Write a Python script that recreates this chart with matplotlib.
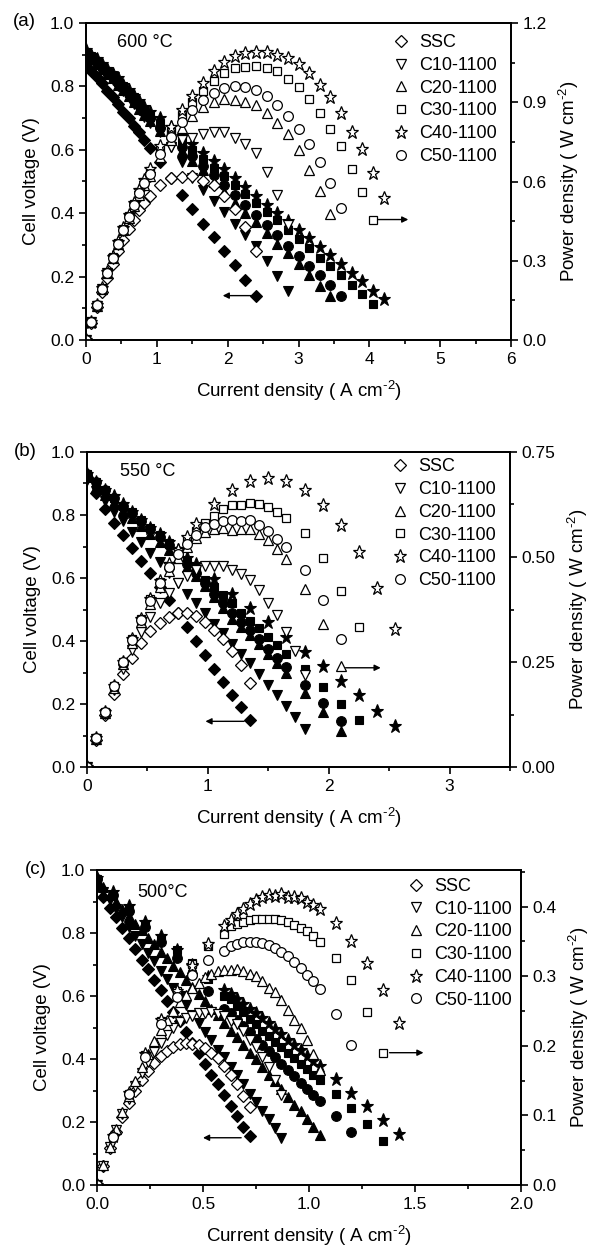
import matplotlib
matplotlib.use('Agg')
import matplotlib.pyplot as plt
from matplotlib.lines import Line2D
from matplotlib.ticker import MultipleLocator, FormatStrFormatter

plt.rcParams['font.family'] = ['Liberation Sans', 'DejaVu Sans']
plt.rcParams['mathtext.fontset'] = 'custom'
plt.rcParams['mathtext.rm'] = 'Liberation Sans'
plt.rcParams['mathtext.default'] = 'regular'

names = ['SSC', 'C10-1100', 'C20-1100', 'C30-1100', 'C40-1100', 'C50-1100']

# ---------------- Panel (a) 600 C ----------------
I_a_low = [0, 0.075, 0.15, 0.225, 0.3, 0.375, 0.45, 0.525, 0.6, 0.675, 0.75, 0.825, 0.9]
I_a_high = [1.05, 1.2, 1.35, 1.5, 1.65, 1.8, 1.95, 2.1, 2.25, 2.4, 2.55, 2.7, 2.85,
            3.0, 3.15, 3.3, 3.45, 3.6, 3.75, 3.9, 4.05, 4.2]
I_a_ssc = I_a_low + I_a_high[:10]
I_a_c10 = I_a_low + I_a_high[:13]
I_a_c20 = I_a_low + I_a_high[:17]
I_a_c30 = I_a_low + I_a_high[:21]
I_a_c40 = I_a_low + I_a_high[:22]
I_a_c50 = I_a_low + I_a_high[:18]
V_a_ssc = [0.87, 0.85, 0.83, 0.81, 0.785, 0.765, 0.745, 0.72, 0.70, 0.675, 0.655, 0.63, 0.605,
           0.56, 0.51, 0.458, 0.413, 0.365, 0.325, 0.28, 0.237, 0.19, 0.14]
V_a_c10 = [0.90, 0.885, 0.87, 0.855, 0.84, 0.82, 0.80, 0.785, 0.765, 0.745, 0.725, 0.705, 0.685,
           0.655, 0.61, 0.56, 0.51, 0.473, 0.437, 0.403, 0.365, 0.33, 0.295, 0.25, 0.203, 0.153]
V_a_c20 = [0.90, 0.885, 0.87, 0.855, 0.84, 0.825, 0.805, 0.79, 0.77, 0.75, 0.73, 0.71, 0.69,
           0.66, 0.63, 0.595, 0.565, 0.535, 0.50, 0.467, 0.432, 0.401, 0.371, 0.337, 0.304,
           0.274, 0.24, 0.204, 0.171, 0.138]
V_a_c30 = [0.91, 0.895, 0.88, 0.865, 0.85, 0.835, 0.815, 0.80, 0.78, 0.765, 0.745, 0.725, 0.71,
           0.685, 0.655, 0.63, 0.60, 0.572, 0.544, 0.518, 0.49, 0.46, 0.432, 0.404, 0.377,
           0.347, 0.319, 0.29, 0.26, 0.232, 0.204, 0.173, 0.144, 0.112]
V_a_c40 = [0.915, 0.90, 0.885, 0.87, 0.855, 0.84, 0.825, 0.805, 0.79, 0.77, 0.755, 0.735, 0.72,
           0.70, 0.672, 0.645, 0.617, 0.59, 0.565, 0.54, 0.512, 0.483, 0.455, 0.427, 0.40,
           0.374, 0.348, 0.321, 0.293, 0.267, 0.239, 0.21, 0.185, 0.156, 0.128]
V_a_c50 = [0.905, 0.89, 0.875, 0.86, 0.845, 0.83, 0.81, 0.795, 0.775, 0.755, 0.74, 0.72, 0.70,
           0.67, 0.64, 0.61, 0.58, 0.55, 0.52, 0.49, 0.457, 0.425, 0.395, 0.362, 0.33,
           0.298, 0.266, 0.235, 0.204, 0.172, 0.139]

# ---------------- Panel (b) 550 C ----------------
I_b_fine = [0, 0.075, 0.15, 0.225, 0.3, 0.375, 0.45, 0.525, 0.6, 0.675, 0.75, 0.825, 0.9,
            0.975, 1.05, 1.125, 1.2, 1.275, 1.35, 1.425, 1.5, 1.575, 1.65, 1.725, 1.8]
I_b_ssc = I_b_fine[:19]
I_b_c10 = I_b_fine[:25]
I_b_c20 = I_b_fine[:23] + [1.8, 1.95, 2.1]
I_b_c30 = I_b_fine[:23] + [1.8, 1.95, 2.1, 2.25]
I_b_c40 = I_b_fine[:13] + [1.05, 1.2, 1.35, 1.5, 1.65, 1.8, 1.95, 2.1, 2.25, 2.4, 2.55]
I_b_c50 = I_b_fine[:23] + [1.8, 1.95, 2.1]
V_b_ssc = [0.92, 0.87, 0.82, 0.775, 0.735, 0.695, 0.655, 0.615, 0.57, 0.53, 0.49, 0.445,
           0.40, 0.355, 0.31, 0.27, 0.23, 0.19, 0.148]
V_b_c10 = [0.91, 0.875, 0.845, 0.81, 0.78, 0.745, 0.715, 0.68, 0.65, 0.615, 0.585, 0.55,
           0.52, 0.49, 0.455, 0.425, 0.39, 0.36, 0.33, 0.295, 0.26, 0.23, 0.195, 0.16, 0.122]
V_b_c20 = [0.92, 0.89, 0.865, 0.84, 0.815, 0.79, 0.765, 0.74, 0.715, 0.69, 0.665, 0.635,
           0.605, 0.575, 0.54, 0.505, 0.47, 0.445, 0.42, 0.39, 0.36, 0.33, 0.30,
           0.235, 0.175, 0.115]
V_b_c30 = [0.93, 0.905, 0.88, 0.855, 0.83, 0.81, 0.785, 0.76, 0.735, 0.71, 0.685, 0.655,
           0.625, 0.595, 0.57, 0.545, 0.52, 0.49, 0.465, 0.44, 0.413, 0.386, 0.36,
           0.31, 0.255, 0.20, 0.148]
V_b_c40 = [0.93, 0.905, 0.88, 0.86, 0.835, 0.81, 0.785, 0.76, 0.74, 0.715, 0.69, 0.665, 0.643,
           0.597, 0.549, 0.504, 0.459, 0.412, 0.366, 0.32, 0.274, 0.228, 0.178, 0.129]
V_b_c50 = [0.93, 0.905, 0.88, 0.855, 0.83, 0.805, 0.78, 0.755, 0.73, 0.705, 0.675, 0.645,
           0.615, 0.585, 0.55, 0.52, 0.49, 0.46, 0.435, 0.405, 0.375, 0.345, 0.318,
           0.26, 0.204, 0.145]

# ---------------- Panel (c) 500 C ----------------
I_c_fine = [0, 0.03, 0.06, 0.09, 0.12, 0.15, 0.18, 0.21, 0.24, 0.27, 0.3, 0.33, 0.36, 0.39,
            0.42, 0.45, 0.48, 0.51, 0.54, 0.57, 0.6, 0.63, 0.66, 0.69, 0.72, 0.75, 0.78,
            0.81, 0.84, 0.87, 0.9, 0.93, 0.96, 0.99, 1.02, 1.05]
I_c_sparse = [0, 0.075, 0.15, 0.225, 0.3, 0.375, 0.45, 0.525]
I_c_ssc = I_c_fine[:25]
I_c_c10 = I_c_fine[:30]
I_c_c20 = I_c_fine[:36]
I_c_c30 = I_c_sparse + I_c_fine[20:36] + [1.125, 1.2, 1.275, 1.35]
I_c_c40 = I_c_sparse + I_c_fine[20:36] + [1.125, 1.2, 1.275, 1.35, 1.425]
I_c_c50 = I_c_sparse + I_c_fine[20:36] + [1.125, 1.2]
V_c_ssc = [0.95, 0.915, 0.88, 0.85, 0.815, 0.785, 0.75, 0.715, 0.685, 0.65, 0.62, 0.585,
           0.55, 0.52, 0.485, 0.45, 0.42, 0.385, 0.35, 0.32, 0.285, 0.25, 0.22, 0.185, 0.155]
V_c_c10 = [0.96, 0.93, 0.905, 0.875, 0.85, 0.82, 0.79, 0.765, 0.735, 0.71, 0.68, 0.655,
           0.625, 0.60, 0.57, 0.54, 0.515, 0.485, 0.46, 0.43, 0.405, 0.375, 0.35, 0.32,
           0.29, 0.265, 0.235, 0.21, 0.18, 0.148]
V_c_c20 = [0.97, 0.945, 0.92, 0.90, 0.875, 0.855, 0.83, 0.81, 0.785, 0.765, 0.74, 0.72,
           0.695, 0.675, 0.65, 0.63, 0.605, 0.585, 0.56, 0.54, 0.515, 0.49, 0.47, 0.445,
           0.42, 0.40, 0.375, 0.35, 0.33, 0.305, 0.28, 0.255, 0.235, 0.21, 0.185, 0.158]
V_c_c30 = [0.97, 0.92, 0.875, 0.83, 0.785, 0.745, 0.705, 0.655,
           0.60, 0.59, 0.568, 0.548, 0.528, 0.51, 0.49, 0.472, 0.455, 0.437, 0.42, 0.402,
           0.385, 0.368, 0.35, 0.332, 0.29, 0.245, 0.195, 0.14]
V_c_c40 = [0.975, 0.93, 0.885, 0.835, 0.79, 0.745, 0.70, 0.66,
           0.62, 0.605, 0.59, 0.575, 0.56, 0.545, 0.53, 0.515, 0.495, 0.48, 0.46, 0.445,
           0.43, 0.41, 0.395, 0.378, 0.335, 0.292, 0.25, 0.207, 0.163]
V_c_c50 = [0.97, 0.92, 0.87, 0.82, 0.77, 0.72, 0.67, 0.615,
           0.56, 0.545, 0.525, 0.505, 0.485, 0.465, 0.445, 0.425, 0.405, 0.385, 0.365, 0.345,
           0.325, 0.305, 0.287, 0.268, 0.218, 0.167]

markers = ['D', 'v', '^', 's', '*', 'o']
msizes = [6.2, 7.8, 7.8, 6.4, 9.8, 7.0]

FS = 12.5
LFS = 13.5

fig = plt.figure(figsize=(6, 12.55), dpi=100)
W, H = 600.0, 1255.0


def make_axes(l, r, t, b):
    return fig.add_axes([l / W, 1 - b / H, (r - l) / W, (b - t) / H])


def style(ax, ax2):
    for a in (ax, ax2):
        for s in a.spines.values():
            s.set_linewidth(1.3)
    ax.tick_params(which='both', direction='out', top=False, right=False, labelsize=FS, width=1.2)
    ax.tick_params(which='major', length=5)
    ax.tick_params(which='minor', length=3)
    ax2.tick_params(which='both', direction='out', top=False, left=False, labelsize=FS, width=1.2)
    ax2.tick_params(which='major', length=5)
    ax2.tick_params(which='minor', length=3)
    ax.yaxis.set_major_locator(MultipleLocator(0.2))
    ax.yaxis.set_minor_locator(MultipleLocator(0.1))
    ax.yaxis.set_major_formatter(FormatStrFormatter('%.1f'))
    ax.set_ylim(0, 1.0)
    ax.set_ylabel('Cell voltage (V)', fontsize=LFS, labelpad=7)
    ax2.set_ylabel(r'Power density ( W cm$^{\text{-2}}$)', fontsize=LFS, labelpad=7)
    ax.set_xlabel(r'Current density ( A cm$^{\text{-2}}$)', fontsize=LFS, labelpad=9)


def draw(ax, data, pmax):
    ax2 = ax.twinx()
    for (I, V), m, ms in zip(data, markers, msizes):
        ax.plot(I, V, ls='none', marker=m, ms=ms, mfc='black', mec='black', mew=0.8)
    for (I, V), m, ms in zip(data, markers, msizes):
        P = [i * v for i, v in zip(I, V)]
        ax2.plot(I, P, ls='none', marker=m, ms=ms, mfc='white', mec='black', mew=0.9)
    ax2.set_ylim(0, pmax)
    return ax2


def legend(ax2, xr, yt):
    handles = [Line2D([], [], ls='none', marker=m, ms=ms, mfc='white', mec='black', mew=0.9)
               for m, ms in zip(markers, msizes)]
    ax2.legend(handles, names, loc='upper right', bbox_to_anchor=(xr, yt), frameon=False,
               fontsize=FS + 0.5, handlelength=1.0, handletextpad=0.5, labelspacing=0.32,
               borderpad=0, borderaxespad=0)


def arrow(ax, x0, x1, y):
    ax.annotate('', xy=(x1, y), xytext=(x0, y),
                arrowprops=dict(arrowstyle='-|>', lw=1.0, color='black', mutation_scale=9,
                                shrinkA=0, shrinkB=0))


# (a)
axa = make_axes(86, 511, 23, 340)
a2 = draw(axa, [(I_a_ssc, V_a_ssc), (I_a_c10, V_a_c10), (I_a_c20, V_a_c20),
                (I_a_c30, V_a_c30), (I_a_c40, V_a_c40), (I_a_c50, V_a_c50)], 1.2)
axa.set_xlim(0, 6)
axa.xaxis.set_major_locator(MultipleLocator(1))
axa.xaxis.set_minor_locator(MultipleLocator(0.5))
a2.yaxis.set_major_locator(MultipleLocator(0.3))
a2.yaxis.set_minor_locator(MultipleLocator(0.15))
a2.yaxis.set_major_formatter(FormatStrFormatter('%.1f'))
style(axa, a2)
legend(a2, 0.967, 0.965)
axa.text(0.072, 0.94, '600 °C', transform=axa.transAxes, fontsize=FS + 0.5, va='center')
arrow(axa, 2.33, 1.93, 0.14)
arrow(axa, 4.12, 4.55, 0.38)
fig.text(36 / W, 1 - 22 / H, '(a)', fontsize=LFS, ha='right', va='center')

# (b)
axb = make_axes(87, 510, 452, 767)
b2 = draw(axb, [(I_b_ssc, V_b_ssc), (I_b_c10, V_b_c10), (I_b_c20, V_b_c20),
                (I_b_c30, V_b_c30), (I_b_c40, V_b_c40), (I_b_c50, V_b_c50)], 0.75)
axb.set_xlim(0, 3.5)
axb.xaxis.set_major_locator(MultipleLocator(1))
axb.xaxis.set_minor_locator(MultipleLocator(0.5))
b2.yaxis.set_major_locator(MultipleLocator(0.25))
b2.yaxis.set_minor_locator(MultipleLocator(0.125))
b2.yaxis.set_major_formatter(FormatStrFormatter('%.2f'))
style(axb, b2)
legend(b2, 0.967, 0.98)
axb.text(0.078, 0.937, '550 °C', transform=axb.transAxes, fontsize=FS + 0.5, va='center')
arrow(axb, 1.3, 0.98, 0.145)
arrow(axb, 2.14, 2.43, 0.315)
fig.text(37 / W, 1 - 452 / H, '(b)', fontsize=LFS, ha='right', va='center')

# (c)
axc = make_axes(97, 521, 870, 1185)
c2 = draw(axc, [(I_c_ssc, V_c_ssc), (I_c_c10, V_c_c10), (I_c_c20, V_c_c20),
                (I_c_c30, V_c_c30), (I_c_c40, V_c_c40), (I_c_c50, V_c_c50)], 0.4525)
axc.set_xlim(0, 2.0)
axc.xaxis.set_major_locator(MultipleLocator(0.5))
axc.xaxis.set_minor_locator(MultipleLocator(0.25))
axc.xaxis.set_major_formatter(FormatStrFormatter('%.1f'))
c2.yaxis.set_major_locator(MultipleLocator(0.1))
c2.yaxis.set_minor_locator(MultipleLocator(0.05))
c2.yaxis.set_major_formatter(FormatStrFormatter('%.1f'))
style(axc, c2)
legend(c2, 0.979, 0.975)
axc.text(0.094, 0.93, '500°C', transform=axc.transAxes, fontsize=FS + 0.5, va='center')
arrow(axc, 0.68, 0.5, 0.15)
arrow(axc, 1.38, 1.54, 0.42)
fig.text(47 / W, 1 - 870 / H, '(c)', fontsize=LFS, ha='right', va='center')

fig.savefig('out.png', dpi=100)
